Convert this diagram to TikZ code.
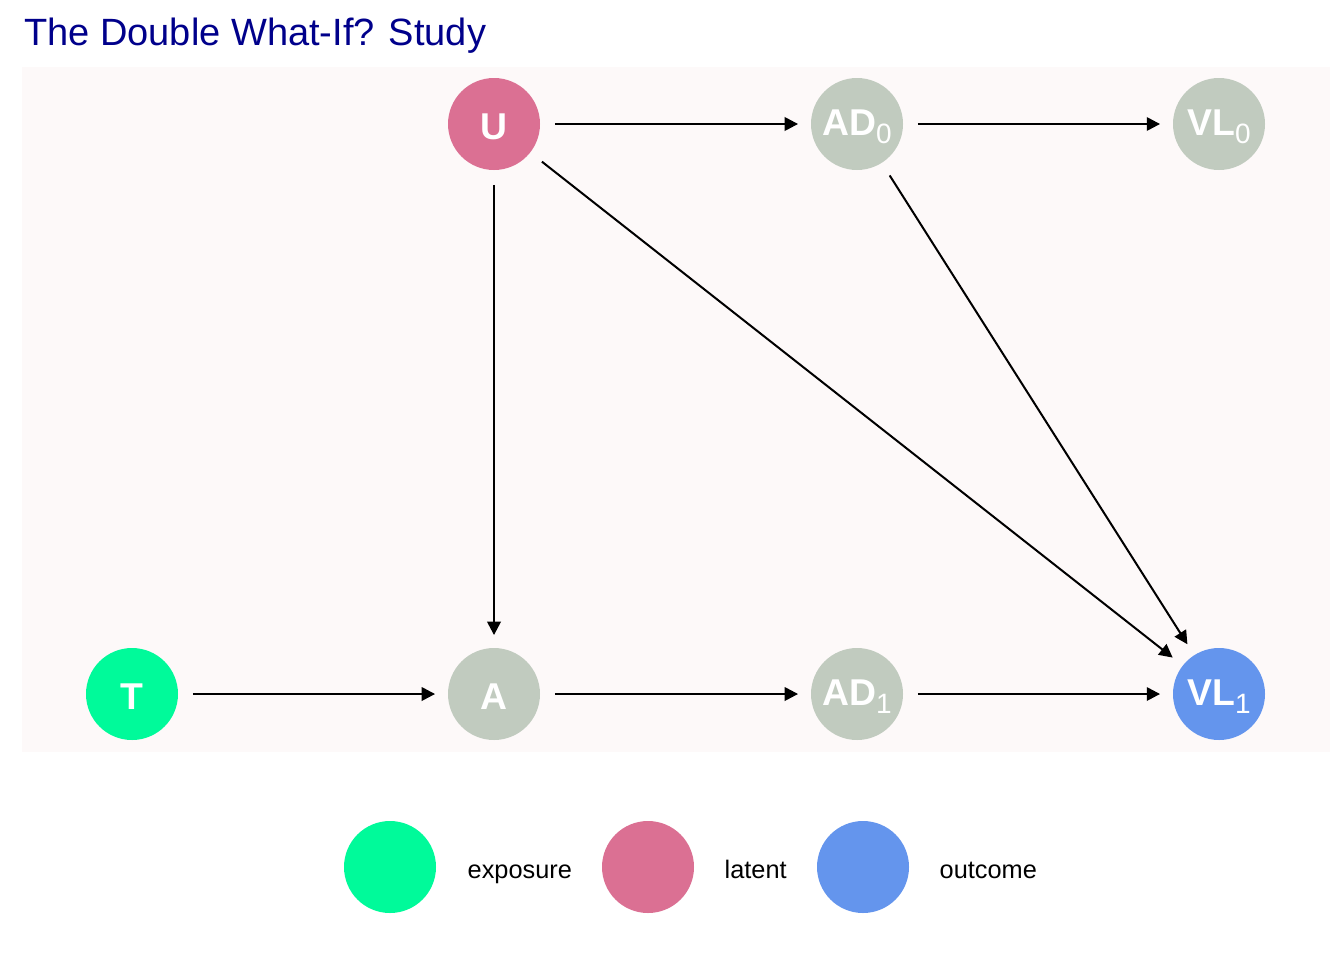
\documentclass[tikz,border=0pt]{standalone}
\usepackage{fontspec}
\setmainfont{Liberation Sans}
\usetikzlibrary{arrows.meta}
\definecolor{panelbg}{RGB}{253,249,249}
\definecolor{greynode}{RGB}{193,203,191}
\definecolor{exposurecol}{RGB}{0,250,154}
\definecolor{latentcol}{RGB}{219,112,147}
\definecolor{outcomecol}{RGB}{100,149,237}
\definecolor{titlecol}{RGB}{0,0,139}
\newcommand{\nlab}[2]{\raisebox{-1.8pt}[\height][\depth]{{\fontsize{28}{28}\selectfont\bfseries #1}\ifx&#2&\else\raisebox{-6pt}{\fontsize{21}{21}\selectfont #2}\fi}}
\tikzset{
  dagnode/.style={circle, inner sep=0pt, minimum size=69pt, text=white, font=\fontsize{28}{28}\selectfont},
  dagedge/.style={-{Triangle[length=10pt,width=10pt]}, line width=1.8pt, shorten <=11pt, shorten >=9.5pt},
  legdot/.style={circle, inner sep=0pt, minimum size=69pt},
  legtext/.style={anchor=base west, font=\fontsize{19}{19}\selectfont, text=black}
}
\begin{document}
\begin{tikzpicture}[x=0.75pt,y=-0.75pt]
\useasboundingbox[fill=white] (0,0) rectangle (1344,960);
\fill[panelbg] (22,67) rectangle (1330,752);
\node[anchor=base west, text=titlecol, font=\fontsize{28.5}{28.5}\selectfont, inner sep=0pt] (title) at (24,45) {The Double What-If? Study};

\node[dagnode, fill=latentcol] (U) at (494,124) {\nlab{U}{}};
\node[dagnode, fill=greynode] (AD0) at (857,124) {\nlab{AD}{0}};
\node[dagnode, fill=greynode] (VL0) at (1219,124) {\nlab{VL}{0}};
\node[dagnode, fill=exposurecol] (T) at (132,694) {\nlab{T}{}};
\node[dagnode, fill=greynode] (A) at (494,694) {\nlab{A}{}};
\node[dagnode, fill=greynode] (AD1) at (857,694) {\nlab{AD}{1}};
\node[dagnode, fill=outcomecol] (VL1) at (1219,694) {\nlab{VL}{1}};

\draw[dagedge] (U) -- (AD0);
\draw[dagedge] (AD0) -- (VL0);
\draw[dagedge] (U) -- (A);
\draw[dagedge, line width=1.5pt] (U) -- (VL1);
\draw[dagedge, line width=1.5pt] (AD0) -- (VL1);
\draw[dagedge] (T) -- (A);
\draw[dagedge] (A) -- (AD1);
\draw[dagedge] (AD1) -- (VL1);

\node[legdot, fill=exposurecol] (L1) at (390,867) {};
\node[legtext] (L1t) at (463,878) {exposure};
\node[legdot, fill=latentcol] (L2) at (648,867) {};
\node[legtext] (L2t) at (720,878) {latent};
\node[legdot, fill=outcomecol] (L3) at (863,867) {};
\node[legtext] (L3t) at (935,878) {outcome};
\end{tikzpicture}
\end{document}
